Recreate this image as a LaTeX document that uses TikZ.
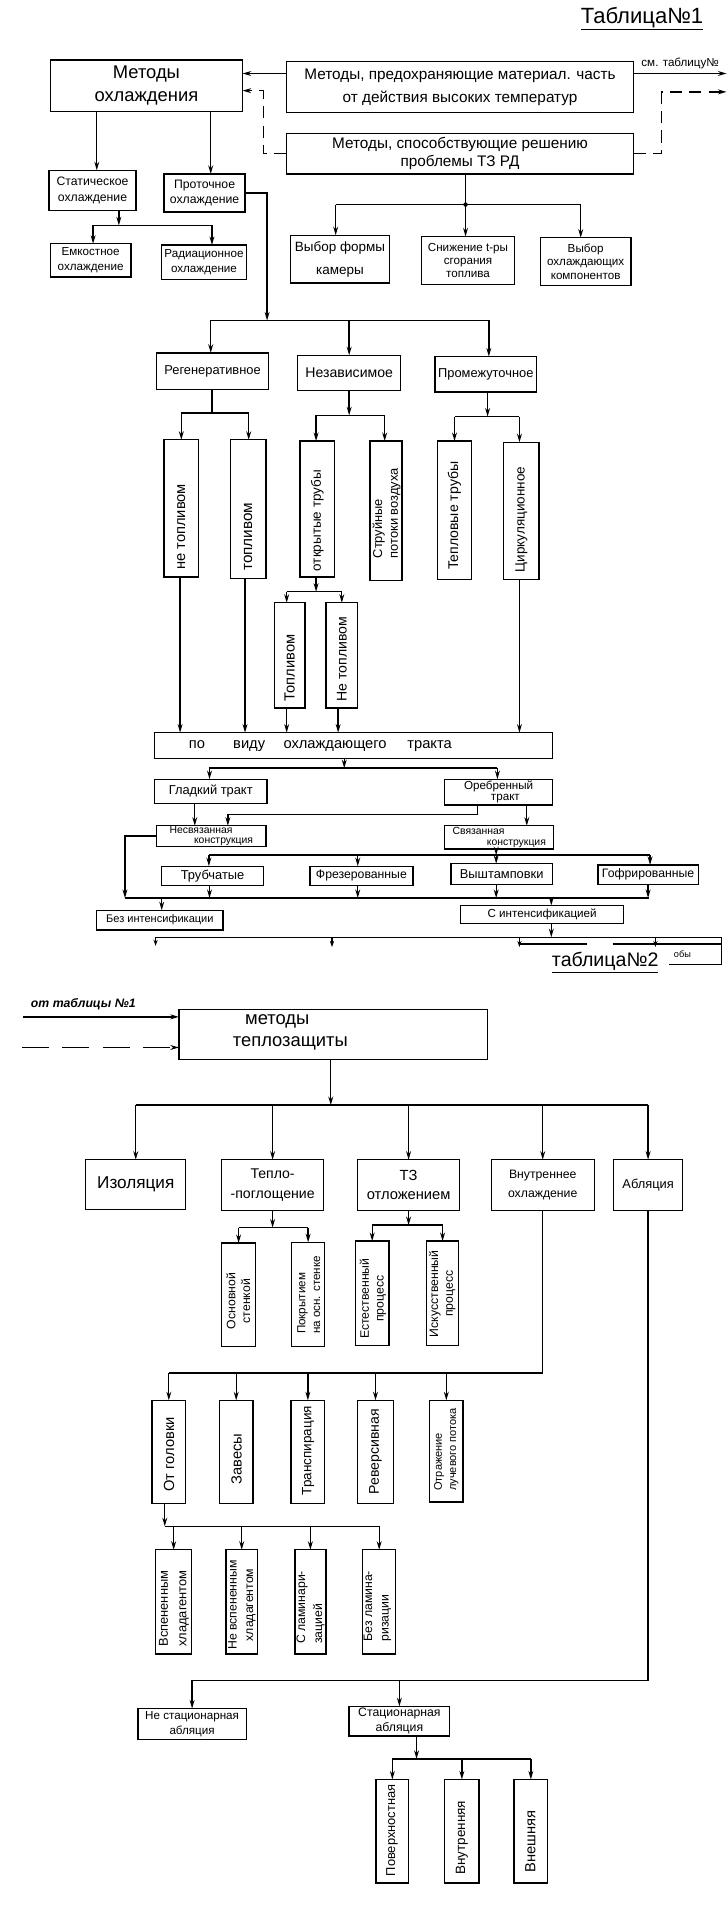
\documentclass[tikz,border=0pt]{standalone}
\usepackage{fontspec}
\setmainfont{Liberation Sans}
\usetikzlibrary{arrows.meta}
\newcommand\mybx[7]{\node[box,minimum width={#4-#2},minimum height={#5-#3},#6] (#1) at ({(#2+#4)/2},{(#3+#5)/2}) {#7};}
\begin{document}
\begin{tikzpicture}[x=1pt,y=-1pt,line width=1.1pt,
  fz/.style 2 args={font=\fontsize{#1}{#2}\selectfont},
  box/.style={draw,line width=1.1pt,inner sep=0pt,outer sep=0pt,align=center},
  arr/.style={-{Stealth[length=7pt,width=4pt]}},
  sarr/.style={-{Stealth[length=5pt,width=3.5pt]}},
  dsh/.style={dash pattern=on 10pt off 6pt},
  ldsh/.style={dash pattern=on 22pt off 11pt},
  rt/.style={rotate=90,inner sep=0pt,align=center},
  rtl/.style={rotate=90,inner sep=0pt,align=left}]
\fill[white] (0,0) rectangle (594,1568);
\useasboundingbox (0,0) rectangle (594,1568);

% ================= TABLE 1 =================
\node[fz={18}{20}] (tab1) at (524,15) {\underline{Таблица№1}};

\mybx{mo}{41}{49}{198}{91}{fz={15}{19}}{Методы\\охлаждения}
\mybx{b1}{234}{50}{517}{92}{fz={12.5}{19}}{Методы, предохраняющие материал. часть\\от действия высоких температур}
\mybx{b2}{234}{109}{517}{142}{fz={12.5}{15}}{Методы, способствующие решению\\проблемы ТЗ РД}

\mybx{st}{40}{139}{111}{172}{fz={10}{12.5}}{Статическое\\охлаждение}
\mybx{pr}{134}{142}{200}{173}{fz={10}{12.5}}{Проточное\\охлаждение}
\mybx{em}{41}{199}{107}{226}{fz={9.5}{12}}{Емкостное\\охлаждение}
\mybx{ra}{132}{200}{201}{228}{fz={9.5}{12}}{Радиационное\\охлаждение}

\mybx{vf}{237}{192}{318}{231}{fz={11}{19}}{Выбор формы\\камеры}
\mybx{sn}{344}{193}{420}{232}{fz={9.5}{10.5}}{Снижение t-ры\\сгорания\\топлива}
\mybx{vo}{441}{194}{515}{233}{fz={9.5}{11}}{Выбор\\охлаждающих\\компонентов}

\mybx{rg}{128}{288}{219}{318}{fz={10.5}{12}}{Регенеративное}
\mybx{nz}{243}{290}{327}{319}{fz={11.5}{13}}{Независимое}
\mybx{pm}{355}{291}{438}{320}{fz={10.5}{12}}{Промежуточное}

\mybx{r1}{134}{359}{162}{471}{}{}
\mybx{r2}{188}{359}{217}{472}{}{}
\mybx{n1}{245}{360}{273}{471}{}{}
\mybx{n2}{302}{360}{328}{474}{}{}
\mybx{p1}{357}{360}{385}{473}{}{}
\mybx{p2}{411}{361}{440}{473}{}{}
\mybx{o1}{224}{492}{249}{578}{}{}
\mybx{o2}{266}{492}{292}{578}{}{}
\node[rt,fz={12}{14}] (tr1) at (148,430) {не топливом};
\node[rt,fz={12.5}{14}] (tr2) at (202.5,438) {топливом};
\node[rt,fz={11}{13}] (tn1) at (259,425) {открытые трубы};
\node[rtl,fz={10.5}{13}] (tn2) at (315.5,419) {Струйные\\потоки воздуха};
\node[rt,fz={11.5}{13}] (tp1) at (371,421) {Тепловые трубы};
\node[rt,fz={11}{13}] (tp2) at (425.5,424) {Циркуляционное};
\node[rt,fz={12}{14}] (to1) at (236.5,545) {Топливом};
\node[rt,fz={11.5}{13}] (to2) at (279,538) {Не топливом};

\mybx{pv}{126}{598}{451}{619}{}{}
\node[fz={12}{14}] (pvt) at (261.5,609) {по\hspace{23pt}виду\hspace{15pt}охлаждающего\hspace{17pt}тракта};

\mybx{gl}{126}{636}{218}{656}{fz={10.5}{12}}{Гладкий тракт}
\mybx{ob}{363}{636}{451}{657}{fz={9.5}{9.5},align=left}{Оребренный\\\hspace*{22pt}тракт}
\mybx{ns}{128}{674}{217}{691}{fz={8.5}{8.5},align=left}{Несвязанная\\\hspace*{20pt}конструкция}
\mybx{sv}{363}{674}{452}{693}{fz={8.5}{8.5},align=left}{Связанная\\\hspace*{28pt}конструкция}

\mybx{tr}{132}{707}{215}{723}{fz={10.5}{12}}{Трубчатые}
\mybx{fr}{253}{707}{337}{723}{fz={10}{12}}{Фрезерованные}
\mybx{vs}{368}{705}{451}{722}{fz={10.5}{12}}{Выштамповки}
\mybx{gf}{488}{706}{570}{722}{fz={10}{12}}{Гофрированные}
\mybx{bi}{79}{743}{182}{759}{fz={9}{11}}{Без интенсификации}
\mybx{si}{376}{739}{509}{754}{fz={9.5}{11}}{С интенсификацией}

% connectors table 1
\draw[arr] (b1.west |- 0,60) -- (mo.east |- 0,60);
\draw[dsh,arr] (b2.west) -| (215,74) -- (mo.east |- 0,74);
\coordinate (out1) at (593,60);
\coordinate (out2) at (593,75);
\draw[arr] (b1.east |- out1) -- (out1);
\draw[dsh,arr] (b2.east) -| (540,75) -- (out2);
\node[fz={9.5}{11},anchor=south west,inner sep=1pt] (lbl1) at (522,58) {см. таблицу№};

\draw[arr] (mo.south -| 79,0) -- (st.north -| 79,0);
\draw[arr] (mo.south -| 172,0) -- (pr.north -| 172,0);
\draw[arr] (st.south -| 97,0) -- (97,184);
\draw (76,184) -- (173,184);
\draw[arr] (76,184) -- (em.north -| 76,0);
\draw[arr] (173,184) -- (ra.north -| 173,0);

\draw (b2.south -| 380,0) -- (380,167);
\fill (380,167) circle (1.8pt);
\draw (274,167) -- (474,167);
\draw[arr] (274,167) -- (vf.north -| 274,0);
\draw[arr] (380,167) -- (sn.north -| 380,0);
\draw[arr] (474,167) -- (vo.north -| 474,0);

\draw[arr] (pr.east) -| (218,261.6);
\draw (172,261.6) -- (399,261.6);
\draw[arr] (172,261.6) -- (rg.north -| 172,0);
\draw[arr] (285,261.6) -- (nz.north -| 285,0);
\draw[arr] (399,261.6) -- (pm.north -| 399,0);

\draw (rg.south -| 173,0) -- (173,337);
\draw (148,337) -- (203,337);
\draw[arr] (148,337) -- (r1.north -| 148,0);
\draw[arr] (203,337) -- (r2.north -| 203,0);
\draw[arr] (nz.south -| 285,0) -- (285,339);
\draw (258,339) -- (314,339);
\draw[arr] (258,339) -- (n1.north -| 258,0);
\draw[arr] (314,339) -- (n2.north -| 314,0);
\draw[arr] (pm.south -| 398,0) -- (398,340);
\draw (371,340) -- (424,340);
\draw[arr] (371,340) -- (p1.north -| 371,0);
\draw[arr] (424,340) -- (p2.north -| 424,0);
\draw[arr] (n1.south -| 258,0) -- (258,483);
\draw (234,483) -- (279,483);
\draw[arr] (234,483) -- (o1.north -| 234,0);
\draw[arr] (279,483) -- (o2.north -| 279,0);

\draw[arr] (r1.south -| 147,0) -- (pv.north -| 147,0);
\draw[arr] (r2.south -| 200,0) -- (pv.north -| 200,0);
\draw[arr] (o1.south -| 234,0) -- (pv.north -| 234,0);
\draw[arr] (o2.south -| 276,0) -- (pv.north -| 276,0);
\draw[arr] (p2.south -| 424,0) -- (pv.north -| 424,0);

\draw[arr] (pv.south -| 281,0) -- (281,627);
\draw (171,627) -- (406,627);
\draw[arr] (171,627) -- (gl.north -| 171,0);
\draw[arr] (406,627) -- (ob.north -| 406,0);
\draw[arr] (gl.south -| 159,0) -- (ns.north -| 159,0);
\draw[arr] (ob.south -| 390,0) |- (186,665) -- (ns.north -| 186,0);
\draw[arr] (ob.south -| 430,0) -- (sv.north -| 430,0);
\draw[arr] (ns.west) -| (102,733);
\draw[arr] (sv.south -| 405,0) -- (405,698);
\draw (170.5,698) -- (530.6,698);
\draw[arr] (170.5,698) -- (tr.north -| 170.5,0);
\draw[arr] (292,698) -- (fr.north -| 292,0);
\draw[arr] (405,698) -- (vs.north -| 405,0);
\draw[arr] (530.6,698) -- (gf.north -| 530.6,0);
\draw[arr] (tr.south -| 171,0) -- (171,733);
\draw[arr] (fr.south -| 292,0) -- (292,733);
\draw[arr] (vs.south -| 405,0) -- (405,733);
\draw[arr] (gf.south -| 529,0) -- (529,733);
\draw (102,733) -- (530,733);
\draw[arr] (132,733) -- (bi.north -| 132,0);
\draw[arr] (450,733) -- (si.north -| 450,0);
\draw[arr] (si.south -| 450,0) -- (450,765);
\draw (127,765) -- (589,765) -- (589,787) -- (546,787);
\draw[sarr] (127,765) -- (127,772);
\draw[sarr] (271,765) -- (271,773);
\draw[sarr] (424,765) -- (424,773);
\draw[sarr] (535,765) -- (535,773);
\draw (424,770.5) -- (479,770.5);
\draw (500,770.5) -- (589,770.5);
\node[fz={7.5}{9}] (frag) at (557,779) {обы};
\node[fz={16}{18},anchor=north] (tab2) at (494,773) {\underline{таблица№2}};

% ================= TABLE 2 =================
\node[fz={11.5}{13},font=\itshape\bfseries] (from1) at (68,820) {от таблицы №1};
\mybx{tz}{146}{824}{398}{865}{}{}
\node[fz={15}{18},align=left] (tzt) at (237,843) {\hspace*{10pt}методы\\теплозащиты};
\coordinate (in1) at (19,830);
\coordinate (in2) at (18,855);
\draw[arr] (in1) -- (tz.west |- in1);
\draw[ldsh,arr] (in2) -- (tz.west |- in2);

\mybx{iz}{70}{946.6}{151.6}{987}{fz={14}{16}}{Изоляция}
\mybx{tp}{181}{946.6}{264}{988}{fz={11.5}{16}}{Тепло-\\-поглощение}
\mybx{to}{292}{946.6}{375}{988}{fz={12}{16}}{ТЗ\\отложением}
\mybx{vn}{401}{946.6}{485}{988}{fz={10}{16}}{Внутреннее\\охлаждение}
\mybx{ab}{501}{946.6}{557}{988}{fz={10.5}{12}}{Абляция}

\mybx{q1}{181}{1014.6}{208.5}{1099}{}{}
\mybx{q2}{238}{1014}{265}{1099}{}{}
\mybx{q3}{290}{1013}{317.6}{1098}{}{}
\mybx{q4}{348}{1013}{374.5}{1098}{}{}
\node[rt,fz={10}{12}] (tq1) at (194.5,1062) {Основной\\стенкой};
\node[rtl,fz={9.5}{12}] (tq2) at (252,1057) {Покрытием\\на осн. стенке};
\node[rt,fz={10}{12}] (tq3) at (304.5,1060) {Естественный\\процесс};
\node[rt,fz={10}{12}] (tq4) at (361,1056) {Искусственный\\процесс};

\mybx{h1}{124}{1143}{151.6}{1227}{}{}
\mybx{h2}{179}{1143}{206.6}{1227}{}{}
\mybx{h3}{237.6}{1143}{265}{1227}{}{}
\mybx{h4}{292}{1143}{321}{1227}{}{}
\mybx{h5}{350.6}{1143}{378}{1226}{}{}
\node[rt,fz={12}{14}] (th1) at (138,1187) {От головки};
\node[rt,fz={12}{14}] (th2) at (193,1191) {Завесы};
\node[rt,fz={11}{13}] (th3) at (251.5,1184) {Транспирация};
\node[rt,fz={11.5}{13}] (th4) at (306.5,1185) {Реверсивная};
\node[rtl,fz={9}{11.5}] (th5) at (364.3,1183) {Отражение\\лучевого потока};

\mybx{g1}{127}{1265}{156.5}{1350}{}{}
\mybx{g2}{184.6}{1265}{210}{1350}{}{}
\mybx{g3}{240.7}{1265}{266}{1350}{}{}
\mybx{g4}{296}{1265}{323}{1350}{}{}
\node[rt,fz={10.5}{15}] (tg1) at (142,1313) {Вспененным\\хладагентом};
\node[rt,fz={10}{13.5}] (tg2) at (197.5,1310) {Не вспененным\\хладагентом};
\node[rtl,fz={10}{14}] (tg3) at (253.5,1312) {С ламинари-\\зацией};
\node[rtl,fz={10}{13.5}] (tg4) at (308,1311) {Без ламина-\\ризации};

\mybx{a1}{112.6}{1394.6}{201}{1420}{fz={9.5}{11.5}}{Не стационарная\\абляция}
\mybx{a2}{285}{1392.7}{367}{1417}{fz={10}{12.5}}{Стационарная\\абляция}

\mybx{s1}{307}{1452.5}{333.5}{1537}{}{}
\mybx{s2}{363}{1452.5}{391}{1537}{}{}
\mybx{s3}{419.6}{1452.5}{447}{1537}{}{}
\node[rt,fz={10.5}{12}] (ts1) at (320,1494) {Поверхностная};
\node[rt,fz={11}{13}] (ts2) at (377,1500) {Внутренняя};
\node[rt,fz={12}{14}] (ts3) at (433,1503) {Внешняя};

% connectors table 2
\draw[arr] (tz.south -| 270,0) -- (270,902);
\draw (iz.north |- 0,902) -- (ab.north |- 0,902);
\foreach \n in {iz,tp,to,vn,ab} \draw[arr] (\n.north |- 0,902) -- (\n.north);
\draw[arr] (tp.south) -- (tp.south |- 0,1002);
\draw (q1.north |- 0,1002) -- (q2.north |- 0,1002);
\foreach \n in {q1,q2} \draw[arr] (\n.north |- 0,1002) -- (\n.north);
\draw[arr] (to.south) -- (to.south |- 0,1000);
\draw (q3.north |- 0,1000) -- (q4.north |- 0,1000);
\foreach \n in {q3,q4} \draw[arr] (\n.north |- 0,1000) -- (\n.north);
\draw (vn.south) |- (h1.north |- 0,1120.6);
\foreach \n in {h1,h2,h3,h4,h5} \draw[arr] (\n.north |- 0,1120.6) -- (\n.north);
\draw[arr] (h1.south -| 134.5,0) -- (134.5,1245.8);
\draw (134.5,1245.8) -- (g4.north |- 0,1245.8);
\foreach \n in {g1,g2,g3,g4} \draw[arr] (\n.north |- 0,1245.8) -- (\n.north);
\draw (ab.south) |- (a1.north |- 0,1371.5);
\foreach \n in {a1,a2} \draw[arr] (\n.north |- 0,1371.5) -- (\n.north);
\draw[arr] (a2.south -| 340,0) -- (340,1435.7);
\draw (s1.north |- 0,1435.7) -- (s3.north |- 0,1435.7);
\foreach \n in {s1,s2,s3} \draw[arr] (\n.north |- 0,1435.7) -- (\n.north);
\end{tikzpicture}
\end{document}
